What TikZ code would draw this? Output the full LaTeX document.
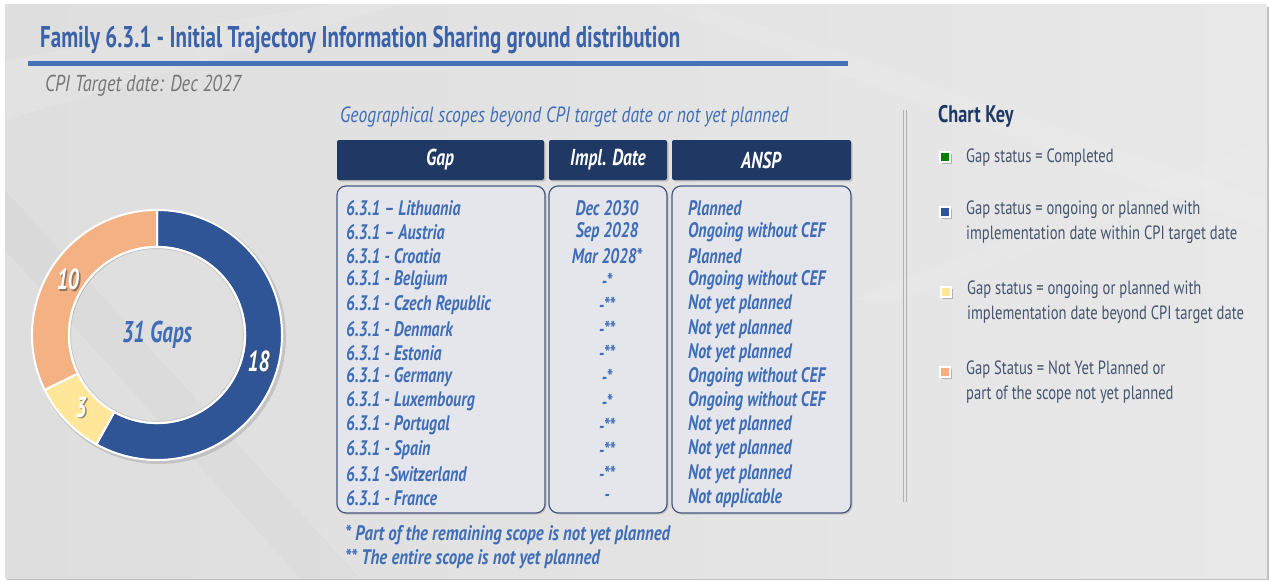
\documentclass[tikz,border=0pt]{standalone}
\usepackage{fontspec}
\setmainfont{PT Sans}[FakeStretch=0.7]
\newfontfamily\fA{PT Sans}[FakeStretch=0.70]
\newfontfamily\fB{PT Sans}[FakeStretch=0.76]
\newfontfamily\fC{PT Sans}[FakeStretch=0.80]
\usetikzlibrary{shadows}
\definecolor{bgA}{RGB}{222,222,222}
\definecolor{bgB}{RGB}{232,232,232}
\definecolor{titleblue}{RGB}{58,98,168}
\definecolor{rule}{RGB}{72,114,184}
\definecolor{tabtext}{RGB}{64,110,182}
\definecolor{navy}{RGB}{31,56,100}
\definecolor{boxline}{RGB}{72,88,126}
\definecolor{boxfill}{RGB}{228,230,236}
\definecolor{keytext}{RGB}{68,84,110}
\definecolor{grayt}{RGB}{118,118,118}
\definecolor{segblue}{RGB}{47,85,151}
\definecolor{segorange}{RGB}{244,177,131}
\definecolor{segyellow}{RGB}{255,230,153}
\definecolor{keygreen}{RGB}{0,128,0}
\definecolor{keyblue}{RGB}{47,85,151}
\tikzset{
  headbox/.style={fill=navy, rounded corners=2pt, drop shadow={opacity=0.35,shadow xshift=1.5pt,shadow yshift=-1.5pt}},
  bodybox/.style={fill=boxfill, draw=boxline, line width=1.2pt, rounded corners=9pt, drop shadow={opacity=0.3,shadow xshift=1.5pt,shadow yshift=-1.5pt}},
  headtxt/.style={text=white, font=\fB\fontsize{23}{25}\selectfont\bfseries\itshape},
  celltxt/.style={text=tabtext, font=\fB\fontsize{21}{23}\selectfont\bfseries\itshape, inner sep=0pt},
  foottxt/.style={text=tabtext, font=\fC\fontsize{21}{23}\selectfont\bfseries\itshape, inner sep=0pt, anchor=west},
  keytxt/.style={text=keytext, font=\fB\fontsize{19.2}{24.5}\selectfont, anchor=north west, align=left, inner sep=0pt},
  keysq/.style={draw=white, line width=1.3pt, minimum size=10pt, inner sep=0pt, drop shadow={opacity=0.5,shadow xshift=1.5pt,shadow yshift=-1.5pt}},
  seglabel/.style={text=white, font=\fA\fontsize{29}{31}\selectfont\bfseries\itshape},
  segshadow/.style={text=black!70, opacity=0.6, font=\fA\fontsize{29}{31}\selectfont\bfseries\itshape},
  seg/.style={draw=white, line width=2pt}
}
\begin{document}
\begin{tikzpicture}[x=1pt,y=-1pt]
\useasboundingbox (0,0) rectangle (1269,581);
% background
\fill[black!25] (7,7) rectangle (1269,580);
\shade[left color=bgA, right color=bgB] (5,4) rectangle (1267,578);
\fill[white, opacity=0.12] (5,60) -- (330,4) -- (400,4) -- (5,120) -- cycle;
\fill[white, opacity=0.10] (700,4) -- (1267,200) -- (1267,230) -- (650,4) -- cycle;
\fill[white, opacity=0.08] (850,300) -- (1267,140) -- (1267,165) -- (900,300) -- cycle;
\fill[black, opacity=0.015] (5,250) -- (300,578) -- (360,578) -- (5,190) -- cycle;

% title
\node[anchor=west, text=titleblue, font=\fA\fontsize{30}{32}\selectfont\bfseries, inner sep=0pt] (title) at (40,40) {Family 6.3.1 - Initial Trajectory Information Sharing ground distribution};
\fill[rule] (28,61) rectangle (848,66);
\node[anchor=west, text=grayt, font=\fC\fontsize{23}{25}\selectfont\itshape, inner sep=0pt] (cpi) at (45,86) {CPI Target date: Dec 2027};

% donut
\begin{scope}[shift={(157,335)}, yscale=-1]
  \fill[black, opacity=0.12, even odd rule] (2,-2) circle (127) (2,-2) circle (89);
  \filldraw[seg, fill=segblue] (90:125) arc[start angle=90, end angle=-119, radius=125] -- (-119:88) arc[start angle=-119, end angle=90, radius=88] -- cycle;
  \filldraw[seg, fill=segyellow] (-119:125) arc[start angle=-119, end angle=-154, radius=125] -- (-154:88) arc[start angle=-154, end angle=-119, radius=88] -- cycle;
  \filldraw[seg, fill=segorange] (206:125) arc[start angle=206, end angle=90, radius=125] -- (90:88) arc[start angle=90, end angle=206, radius=88] -- cycle;
  \draw[white, line width=2.2pt] (0,0) circle (88);
  \draw[black, opacity=0.10, line width=1pt] (0,0) circle (86.5);
  \node[segshadow] at ([shift={(1.5,-1.5)}]-14.5:105) {18};
  \node[segshadow] at ([shift={(1.5,-1.5)}]-136.5:105) {3};
  \node[segshadow] at ([shift={(1.5,-1.5)}]148:105) {10};
  \node[seglabel] (l18) at (-14.5:105) {18};
  \node[seglabel] (l3) at (-136.5:105) {3};
  \node[seglabel] (l10) at (148:105) {10};
  \node[text=tabtext, font=\fA\fontsize{30}{32}\selectfont\bfseries\itshape] (gaps) at (0,0) {31 Gaps};
\end{scope}

% table
\node[anchor=west, text=tabtext, font=\fC\fontsize{22}{24}\selectfont\itshape, inner sep=0pt] (sub) at (340,117) {Geographical scopes beyond CPI target date or not yet planned};
\fill[headbox] (337,140) rectangle (544,180);
\fill[headbox] (549,140) rectangle (667,180);
\fill[headbox] (672,140) rectangle (851,180);
\node[headtxt] (hgap) at (440,160) {Gap};
\node[headtxt] (hdate) at (608,160) {Impl. Date};
\node[headtxt] (hansp) at (761,160) {ANSP};
\draw[bodybox] (337,186) rectangle (545,513);
\draw[bodybox] (549,186) rectangle (667,513);
\draw[bodybox] (672,186) rectangle (851,513);
\foreach \g/\d/\a [count=\i from 0] in {
  6.3.1 – Lithuania/Dec 2030/Planned,
  6.3.1 – Austria/Sep 2028/Ongoing without CEF,
  6.3.1 - Croatia/Mar 2028*/Planned,
  6.3.1 - Belgium/-*/Ongoing without CEF,
  6.3.1 - Czech Republic/-**/Not yet planned,
  6.3.1 - Denmark/-**/Not yet planned,
  6.3.1 - Estonia/-**/Not yet planned,
  6.3.1 - Germany/-*/Ongoing without CEF,
  6.3.1 - Luxembourg/-*/Ongoing without CEF,
  6.3.1 - Portugal/-**/Not yet planned,
  6.3.1 - Spain/-**/Not yet planned,
  6.3.1 -Switzerland/-**/Not yet planned,
  6.3.1 - France/-/Not applicable}{
  \pgfmathsetmacro{\yy}{208+24.17*\i}
  \node[celltxt, anchor=west] (g\i) at (346,\yy) {\g};
  \node[celltxt] (d\i) at (607,\yy) {\d};
  \node[celltxt, anchor=west] (a\i) at (688,\yy) {\a};
}
\node[foottxt] (fn1) at (345,535) {* Part of the remaining scope is not yet planned};
\node[foottxt] (fn2) at (345,559) {** The entire scope is not yet planned};

% separator
\draw[black!30, line width=1pt] (903,110) -- (903,502);
\draw[black!30, line width=1pt] (906,110) -- (906,502);

% chart key
\node[anchor=west, text=navy, font=\fB\fontsize{24}{26}\selectfont\bfseries, inner sep=0pt] (key) at (938,116) {Chart Key};
\node[keysq, fill=keygreen] (k1) at (945,157) {};
\node[keysq, fill=keyblue] (k2) at (945,212) {};
\node[keysq, fill=segyellow] (k3) at (946,292) {};
\node[keysq, fill=segorange] (k4) at (945,372) {};
\node[keytxt, anchor=west] (t1) at (966,158) {Gap status = Completed};
\node[keytxt] (t2) at (966,201) {Gap status = ongoing or planned with\\implementation date within CPI target date};
\node[keytxt] (t3) at (967,281) {Gap status = ongoing or planned with\\implementation date beyond CPI target date};
\node[keytxt] (t4) at (966,361) {Gap Status = Not Yet Planned or\\part of the scope not yet planned};
\end{tikzpicture}
\end{document}
